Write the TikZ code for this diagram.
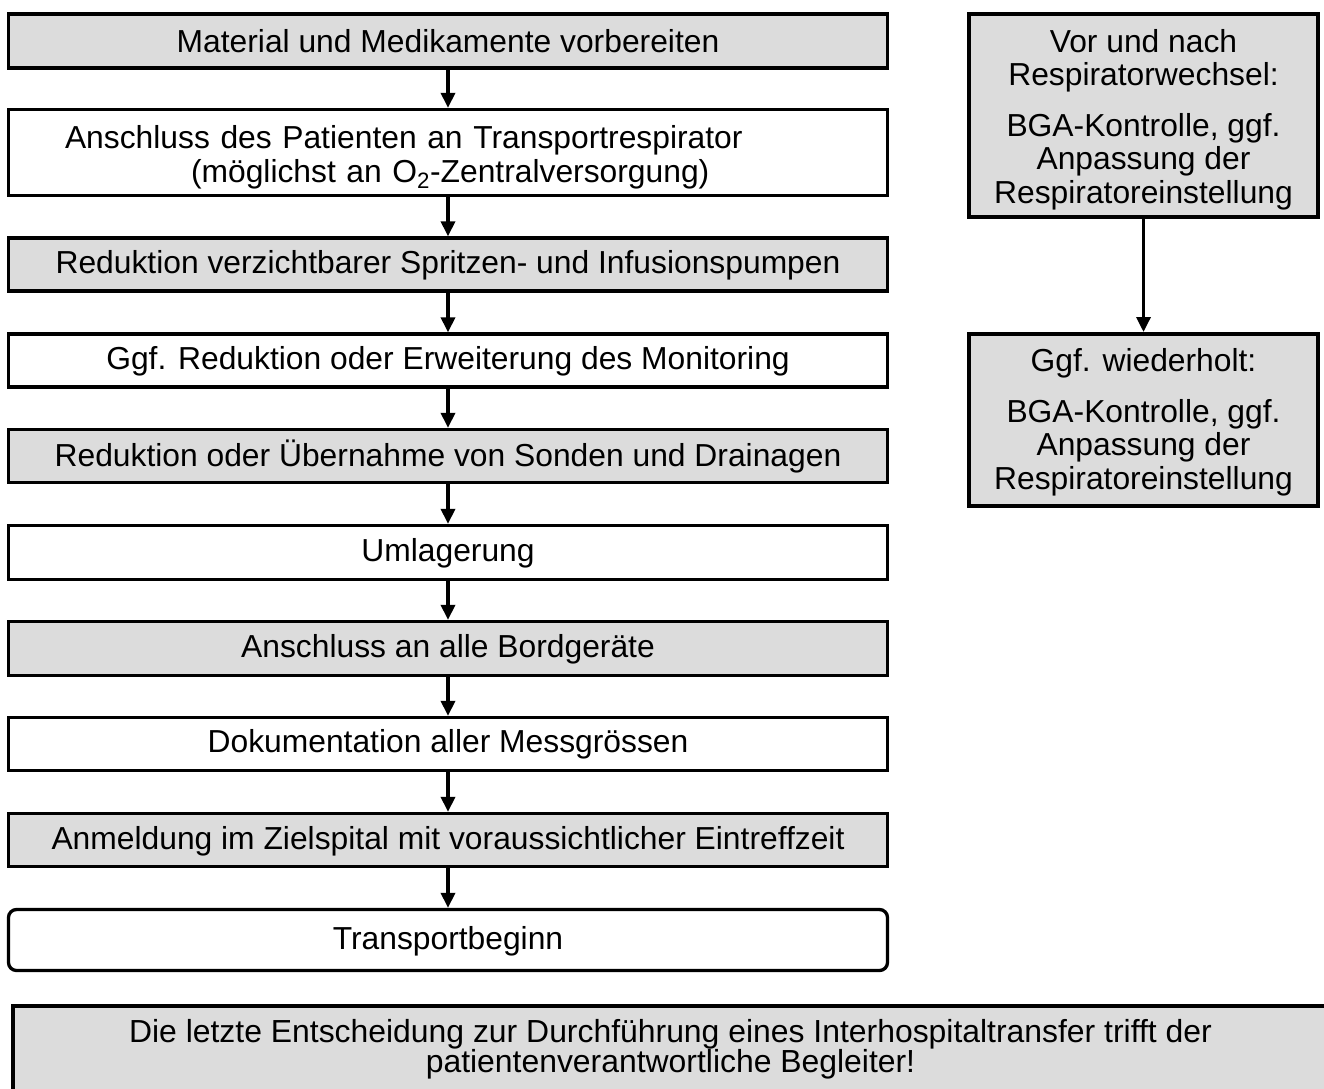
\documentclass[tikz,border=0pt]{standalone}
\usepackage{fontspec}
\setmainfont{Liberation Sans}
\usetikzlibrary{arrows.meta}
\definecolor{boxgray}{RGB}{220,220,220}
% strut that lowers the first line of a multi-line box a little
\newcommand{\toppad}[1]{\rule{0pt}{#1}}
\begin{document}
\begin{tikzpicture}[x=1pt,y=-1pt,
  every node/.style={font=\fontsize{31.8}{33.5}\selectfont},
  flowbox/.style={draw, line width=3.3pt, minimum width=879pt, inner sep=0pt, align=center},
  shaded/.style={fill=boxgray},
  sidebox/.style={draw, fill=boxgray, line width=4pt, minimum width=349pt, inner sep=0pt, align=center},
  notebox/.style={draw, fill=boxgray, line width=4.5pt, minimum width=1315pt, minimum height=86pt,
    inner sep=0pt, align=center, font=\fontsize{31.9}{30}\selectfont},
  flow/.style={line width=3.3pt, -{Triangle[width=14pt,length=15pt]}}
]
\useasboundingbox (0,0) rectangle (1324,1088);
\clip (0,0) rectangle (1324,1088);

% main sequence
\node[flowbox, shaded, minimum height=54pt] (b1) at (448,41) {Material und Medikamente vorbereiten};
\node[flowbox, minimum height=86pt, text width=879pt, align=left] (b2) at (448,152.5)
  {\toppad{32.5pt}\hspace*{56.5pt}Anschluss des Patienten an Transportrespirator\\
   \hspace*{182.5pt}(möglichst an O\textsubscript{2}-Zentralversorgung)};
\node[flowbox, shaded, minimum height=53pt] (b3) at (448,264.5) {\toppad{25pt}Reduktion verzichtbarer Spritzen- und Infusionspumpen};
\node[flowbox, minimum height=53pt] (b4) at (448,360.5) {\toppad{25pt}Ggf. Reduktion oder Erweiterung des Monitoring};
\node[flowbox, shaded, minimum height=53pt] (b5) at (448,456) {Reduktion oder Übernahme von Sonden und Drainagen};
\node[flowbox, minimum height=54pt] (b6) at (448,552.5) {\toppad{25pt}Umlagerung};
\node[flowbox, shaded, minimum height=54pt] (b7) at (448,648.5) {\toppad{25pt}Anschluss an alle Bordgeräte};
\node[flowbox, minimum height=53pt] (b8) at (448,744) {Dokumentation aller Messgrössen};
\node[flowbox, shaded, minimum height=53pt] (b9) at (448,840) {\toppad{25pt}Anmeldung im Zielspital mit voraussichtlicher Eintreffzeit};
\node[flowbox, rounded corners=8pt, minimum height=61pt] (b10) at (448,940) {\toppad{25pt}Transportbeginn};

\foreach \a/\b in {b1/b2,b2/b3,b3/b4,b4/b5,b5/b6,b6/b7,b7/b8,b8/b9,b9/b10}
  \draw[flow] (\a.south) -- (\b.north);

% ventilator checks
\node[sidebox, minimum height=203pt] (r1) at (1143.5,115.5)
  {\toppad{31.5pt}Vor und nach\\Respiratorwechsel:\\[17pt]BGA-Kontrolle, ggf.\\Anpassung der\\Respiratoreinstellung};
\node[sidebox, minimum height=172pt] (r2) at (1143.5,420)
  {\toppad{28pt}Ggf. wiederholt:\\[17pt]BGA-Kontrolle, ggf.\\Anpassung der\\Respiratoreinstellung};
\draw[flow] (r1.south) -- (r2.north);

% final note
\node[notebox] (note) at (670.5,1049)
  {Die letzte Entscheidung zur Durchführung eines Interhospitaltransfer trifft der\\patientenverantwortliche Begleiter!};
\end{tikzpicture}
\end{document}
